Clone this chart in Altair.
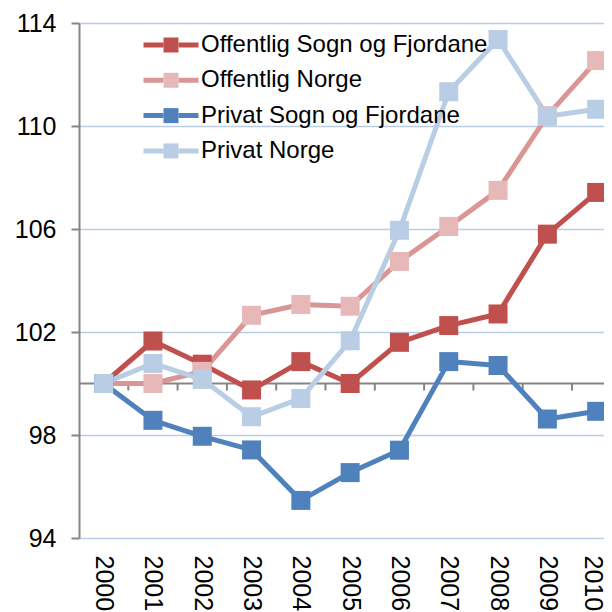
import altair as alt
import pandas as pd

years = list(range(2000, 2011))
series_names = ["Offentlig Sogn og Fjordane", "Offentlig Norge",
                "Privat Sogn og Fjordane", "Privat Norge"]
offentlig_sf = [100.0, 101.65, 100.75, 99.75, 100.85, 100.0, 101.6, 102.25, 102.7, 105.8, 107.42]
offentlig_no = [100.0, 100.0, 100.47, 102.65, 103.07, 103.0, 104.74, 106.1, 107.5, 110.4, 112.54]
privat_sf = [100.0, 98.57, 97.95, 97.42, 95.46, 96.54, 97.41, 100.85, 100.7, 98.62, 98.92]
privat_no = [100.0, 100.78, 100.16, 98.71, 99.42, 101.66, 105.95, 111.33, 113.36, 110.38, 110.65]
line_colors = ["#C0504D", "#D99694", "#4F81BD", "#B9CDE5"]
marker_colors = ["#C0504D", "#E6B9B8", "#4F81BD", "#B9CDE5"]
y_ticks = [94, 98, 102, 106, 110, 114]
index_base = 100

values = [offentlig_sf, offentlig_no, privat_sf, privat_no]
rows = []
for name, vals in zip(series_names, values):
    for yr, v in zip(years, vals):
        rows.append({"series": name, "year": yr, "value": v})
df = pd.DataFrame(rows)
base_df = pd.DataFrame({"base": [index_base]})
mid_df = pd.DataFrame({"mid": [y + 0.5 for y in years[:-1]]})

FONT = "Liberation Sans"
AXIS_FS = 25
LEG_FS = 24
x_scale = alt.Scale(domain=[1999.5, 2010.149], nice=False, zero=False)
y_scale = alt.Scale(domain=[94, 114], nice=False, zero=False)
x_axis = alt.Axis(values=years, format="d", labelAngle=90, labelAlign="left",
                  labelBaseline="middle", labelPadding=17, ticks=False, tickSize=0,
                  domain=False, grid=False, labelFontSize=AXIS_FS, labelColor="black",
                  labelFont=FONT, title=None, labelOverlap=False,
                  labelOffset={"condition": {"test": f"datum.value == {years[-1]}", "value": -4},
                               "value": 0})
y_axis = alt.Axis(values=y_ticks, grid=True, gridColor="#B9CDE5", gridWidth=1.5,
                  domainColor="#868686", domainWidth=2, tickColor="#868686",
                  tickWidth=2, tickSize=8, labelPadding=15, labelFontSize=AXIS_FS,
                  labelColor="black", labelFont=FONT, title=None)

X = alt.X("year:Q", scale=x_scale, axis=x_axis)
Y = alt.Y("value:Q", scale=y_scale, axis=y_axis)

axis_rule = alt.Chart(base_df).mark_rule(color="#868686", strokeWidth=2).encode(
    y=alt.Y("base:Q", scale=y_scale, axis=y_axis)
)
axis_ticks = alt.Chart(mid_df).mark_rule(color="#868686", strokeWidth=2).encode(
    x=alt.X("mid:Q", scale=x_scale, axis=x_axis),
    y=alt.datum(index_base),
    y2=alt.datum(index_base - 7 / 25.75),
)

lines = alt.Chart(df).mark_line(strokeWidth=5, strokeJoin="round", strokeCap="round").encode(
    x=X, y=Y,
    stroke=alt.Stroke("series:N", scale=alt.Scale(domain=series_names, range=line_colors),
                      legend=alt.Legend(orient="none", legendX=80, legendY=10, title=None,
                                        symbolType="M-3.667,0H-1M1,0H3.667", symbolSize=225,
                                        symbolStrokeWidth=5, labelFontSize=LEG_FS, labelFont=FONT,
                                        labelColor="black", labelOffset=18, rowPadding=11.3,
                                        padding=0, labelLimit=500)),
)
points = alt.Chart(df).transform_calculate(series_m="datum.series").mark_square(
    size=361, opacity=1, filled=True
).encode(
    x=X, y=Y,
    fill=alt.Fill("series_m:N", scale=alt.Scale(domain=series_names, range=marker_colors),
                  legend=alt.Legend(orient="top-left", offset=10, symbolOffset=70,
                                    title=None, symbolType="square", symbolSize=225,
                                    symbolStrokeWidth=0, labelFontSize=LEG_FS, labelFont=FONT,
                                    labelOpacity=0, labelOffset=18, rowPadding=11.3,
                                    padding=0, labelLimit=500)),
)

chart = alt.layer(axis_rule, axis_ticks, lines, points).properties(
    width=525, height=515,
    padding={"left": 71, "top": 15, "right": 0, "bottom": 74},
    autosize=alt.AutoSizeParams(type="none"),
).configure(font=FONT).configure_view(stroke=None)

chart.save("out.html", embed_options={"renderer": "svg", "actions": False})
